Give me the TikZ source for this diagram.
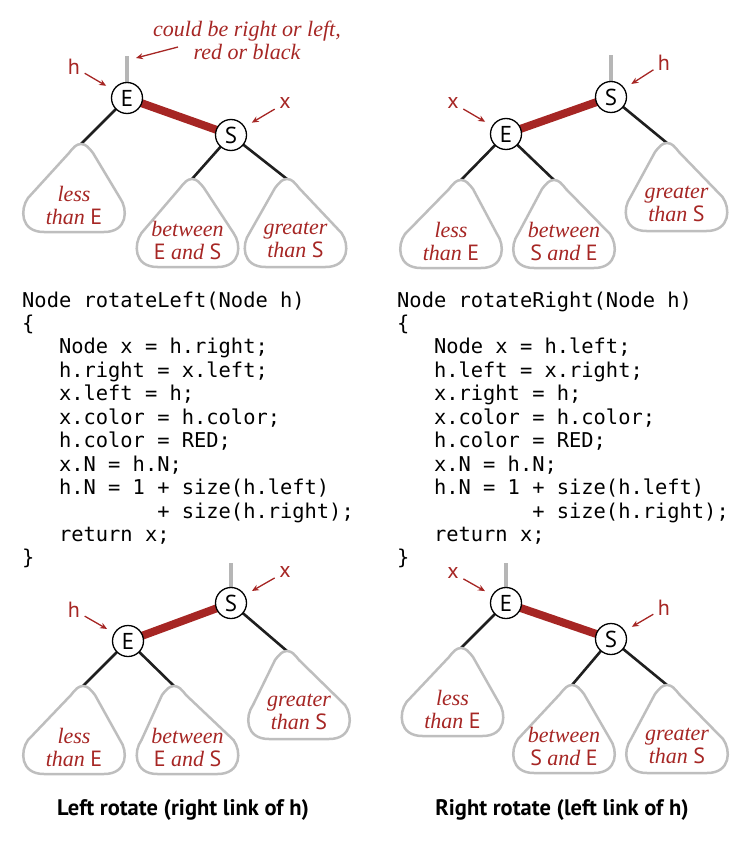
\documentclass[tikz,border=0pt]{standalone}
\usepackage{fontspec}
\setsansfont{PT Sans}
\setmonofont{DejaVu Sans Mono}
\newfontfamily\itf{Liberation Serif}
\usetikzlibrary{arrows.meta,calc}
\definecolor{myred}{RGB}{166,38,36}
\definecolor{tgrey}{RGB}{190,190,190}
\definecolor{sgrey}{RGB}{182,182,182}
\pgfdeclarelayer{background}
\pgfsetlayers{background,main}
\newcommand\sE{{\upshape\sffamily E}}
\newcommand\sS{{\upshape\sffamily S}}
\tikzset{
 rb/.style={circle,draw=black,fill=white,line width=1.3pt,minimum size=31pt,inner sep=0pt,font=\sffamily\fontsize{23}{23}\selectfont},
 redlink/.style={line width=8pt,draw=myred},
 blink/.style={line width=2.6pt,draw=black!88},
 stubline/.style={line width=4pt,draw=sgrey},
 tri/.style={draw=tgrey,line width=2.5pt,fill=white},
 tritext/.style={align=center,text=myred,font=\itf\itshape\fontsize{22}{23}\selectfont,inner sep=0pt},
 lab/.style={text=myred,font=\sffamily\fontsize{22}{22}\selectfont,inner sep=1pt},
 rarrow/.style={draw=myred,line width=1.3pt,-{Stealth[length=7pt,width=6pt]},shorten >=8pt,shorten <=4pt},
 codeline/.style={anchor=base west,inner sep=0pt,font=\ttfamily\fontsize{20.4}{23}\selectfont},
 captext/.style={font=\sffamily\bfseries\fontsize{22.5}{22.5}\selectfont,inner sep=0pt}
}
% #1 name, #2 cx, #3 top, #4 apex shift, #5 line1, #6 line2
\newcommand\subtr[6]{%
 \begin{scope}[shift={(#2,#3)}]
  \coordinate (#1) at (#4,0);
  \draw[tri] (#4,0) .. controls (#4+5,0) and (#4+8,4) .. (#4+12,9) -- (46,54)
    .. controls (54,65) and (54,88) .. (30,88) -- (-30,88)
    .. controls (-54,88) and (-54,65) .. (-46,54) -- (#4-12,9)
    .. controls (#4-8,4) and (#4-5,0) .. (#4,0) -- cycle;
  \node[tritext] (#1t) at (0,61) {#5\\#6};
 \end{scope}}
\begin{document}
\begin{tikzpicture}[x=1pt,y=-1pt]
\useasboundingbox (0,0) rectangle (748,842);
% ---------- top left ----------
\node[rb] (tlE) at (127,98) {E};
\node[rb] (tlS) at (231,135) {S};
\coordinate (tlstub) at (127,56);
\subtr{A1}{74}{144}{7}{less}{than \sE}
\subtr{A2}{187.5}{179}{4.5}{between}{\sE\ and \sS}
\subtr{A3}{295.5}{179}{-8.5}{greater}{than \sS}
\node[lab] (tlh) at (74,67) {h};
\node[lab] (tlx) at (285,103) {x};
\draw[rarrow] (tlh) -- (tlE);
\draw[rarrow] (tlx) -- (tlS);
\node[tritext] (note) at (247,40) {could be right or left,\\red or black};
\coordinate (noteA) at (178,47);
\coordinate (noteB) at (136,58);
\draw[rarrow,shorten >=0pt,shorten <=0pt] (noteA) -- (noteB);
% ---------- top right ----------
\node[rb] (trS) at (611,97) {S};
\node[rb] (trE) at (506,134) {E};
\coordinate (trstub) at (611,55);
\subtr{B1}{451}{180}{10}{less}{than \sE}
\subtr{B2}{564}{180}{-10}{between}{\sS\ and \sE}
\subtr{B3}{676.5}{143}{-9.5}{greater}{than \sS}
\node[lab] (trh) at (664,63) {h};
\node[lab] (trx) at (453,103) {x};
\draw[rarrow] (trh) -- (trS);
\draw[rarrow] (trx) -- (trE);
% ---------- bottom left ----------
\node[rb] (blS) at (231,603) {S};
\node[rb] (blE) at (128,641) {E};
\coordinate (blstub) at (231,563);
\subtr{C1}{74}{686}{9}{less}{than \sE}
\subtr{C2}{187.5}{686}{-13.5}{between}{\sE\ and \sS}
\subtr{C3}{299}{651}{-12}{greater}{than \sS}
\node[lab] (blx) at (285,572) {x};
\node[lab] (blh) at (74,610) {h};
\draw[rarrow] (blx) -- (blS);
\draw[rarrow] (blh) -- (blE);
% ---------- bottom right ----------
\node[rb] (brE) at (506,603) {E};
\node[rb] (brS) at (611,639) {S};
\coordinate (brstub) at (506,563);
\subtr{D1}{452.5}{648}{8.5}{less}{than \sE}
\subtr{D2}{564}{685}{8}{between}{\sS\ and \sE}
\subtr{D3}{677}{685}{-10}{greater}{than \sS}
\node[lab] (brx) at (453,573) {x};
\node[lab] (brh) at (664,608) {h};
\draw[rarrow] (brx) -- (brE);
\draw[rarrow] (brh) -- (brS);
% ---------- links ----------
\begin{pgfonlayer}{background}
 \draw[stubline] (tlE.center) -- (tlstub);
 \draw[redlink] (tlE.center) -- (tlS.center);
 \draw[blink] (tlE.center) -- (A1);
 \draw[blink] (tlS.center) -- (A2);
 \draw[blink] (tlS.center) -- (A3);
 \draw[stubline] (trS.center) -- (trstub);
 \draw[redlink] (trS.center) -- (trE.center);
 \draw[blink] (trE.center) -- (B1);
 \draw[blink] (trE.center) -- (B2);
 \draw[blink] (trS.center) -- (B3);
 \draw[stubline] (blS.center) -- (blstub);
 \draw[redlink] (blS.center) -- (blE.center);
 \draw[blink] (blE.center) -- (C1);
 \draw[blink] (blE.center) -- (C2);
 \draw[blink] (blS.center) -- (C3);
 \draw[stubline] (brE.center) -- (brstub);
 \draw[redlink] (brE.center) -- (brS.center);
 \draw[blink] (brE.center) -- (D1);
 \draw[blink] (brS.center) -- (D2);
 \draw[blink] (brS.center) -- (D3);
\end{pgfonlayer}
% ---------- code ----------
\foreach \ln [count=\i] in {Node rotateLeft(Node h), \{, ~~~Node x = h.right;, ~~~h.right = x.left;, ~~~x.left = h;, ~~~x.color = h.color;, ~~~h.color = RED;, ~~~x.N = h.N;, ~~~h.N = 1 + size(h.left), ~~~~~~~~~~~+ size(h.right);, ~~~return x;, \}}
  \node[codeline] (cl\i) at (22,{307+23.45*(\i-1)}) {\ln};
\foreach \ln [count=\i] in {Node rotateRight(Node h), \{, ~~~Node x = h.left;, ~~~h.left = x.right;, ~~~x.right = h;, ~~~x.color = h.color;, ~~~h.color = RED;, ~~~x.N = h.N;, ~~~h.N = 1 + size(h.left), ~~~~~~~~~~~+ size(h.right);, ~~~return x;, \}}
  \node[codeline] (cr\i) at (397,{307+23.45*(\i-1)}) {\ln};
% ---------- captions ----------
\node[captext] (capL) at (183,810) {Left rotate (right link of h)};
\node[captext] (capR) at (562,810) {Right rotate (left link of h)};
\end{tikzpicture}
\end{document}
